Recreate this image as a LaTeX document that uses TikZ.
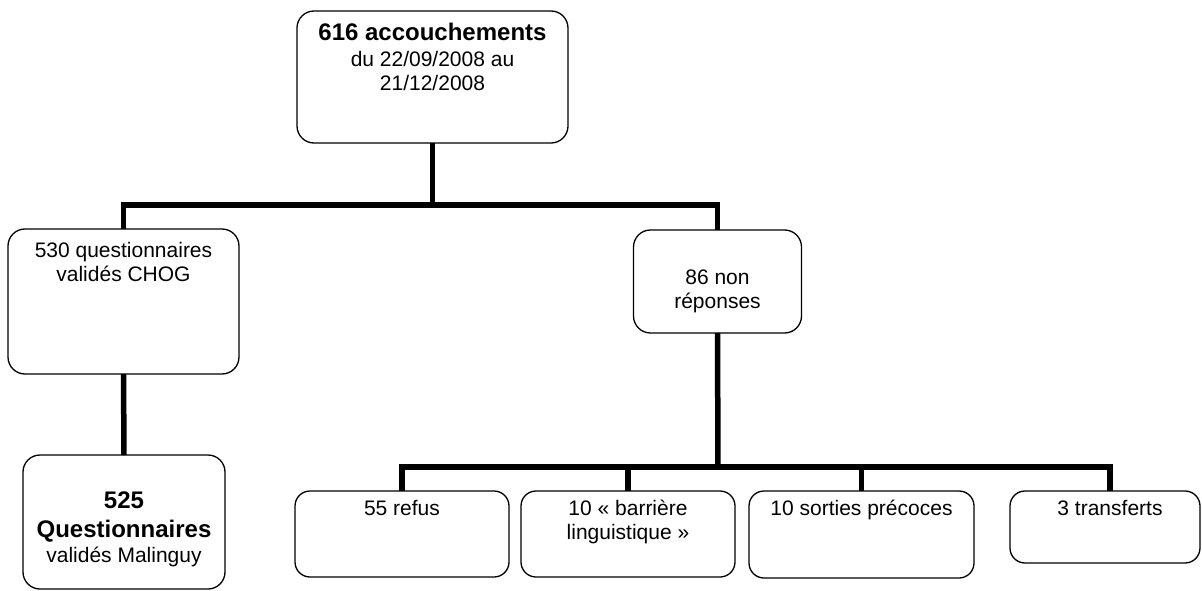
\documentclass[tikz,border=0pt]{standalone}
\usepackage{fontspec}
\setmainfont{Liberation Sans}
\begin{document}
\begin{tikzpicture}[x=1pt,y=-1pt,
  bx/.style={draw=black, line width=1.3pt, rounded corners=17pt, inner sep=0pt, outer sep=0pt},
  tx/.style={anchor=base, inner sep=0pt, font=\fontsize{21}{24}\selectfont},
  tb/.style={anchor=base, inner sep=0pt, font=\fontsize{24}{28}\selectfont\bfseries},
  cn/.style={line width=5.5pt}]
\useasboundingbox (0,0) rectangle (1202,591);
% boxes
\node[bx, minimum width=271pt, minimum height=132pt] (top) at (432.5,77) {};
\node[bx, minimum width=231pt, minimum height=145pt] (left) at (123.5,301.5) {};
\node[bx, minimum width=168pt, minimum height=103pt] (right) at (717.5,281.5) {};
\node[bx, minimum width=202pt, minimum height=134pt] (bl) at (124,522) {};
\node[bx, minimum width=214pt, minimum height=86pt, rounded corners=15pt] (b1) at (402,534) {};
\node[bx, minimum width=214pt, minimum height=86pt, rounded corners=15pt] (b2) at (628,534) {};
\node[bx, minimum width=225pt, minimum height=87pt, rounded corners=15pt] (b3) at (861.5,534.5) {};
\node[bx, minimum width=190pt, minimum height=72pt, rounded corners=15pt] (b4) at (1105,527) {};
% texts
\node[tb] (t1) at (432.5,41) {616 accouchements};
\node[tx] (t2) at (432.5,67) {du 22/09/2008 au};
\node[tx] (t3) at (432.5,91) {21/12/2008};
\node[tx] (l1) at (123.5,257) {530 questionnaires};
\node[tx] (l2) at (123.5,281) {validés CHOG};
\node[tx] (r1) at (717.5,284) {86 non};
\node[tx] (r2) at (717.5,308) {réponses};
\node[tb] (q1) at (124,508) {525};
\node[tb] (q2) at (124,537) {Questionnaires};
\node[tx] (q3) at (124,562) {validés Malinguy};
\node[tx] (s1) at (402,515) {55 refus};
\node[tx] (s2a) at (628,515) {10 « barrière};
\node[tx] (s2b) at (628,539) {linguistique »};
\node[tx] (s3) at (861.5,515) {10 sorties précoces};
\node[tx] (s4) at (1110,515) {3 transferts};
% connectors
\coordinate (bus1) at (432.5,205);
\coordinate (bus2) at (718,467);
\draw[cn] (top.south) -- (bus1);
\draw[cn] (left.north) |- (bus1) -| (right.north);
\draw[cn] (left.south) -- (bl.north);
\draw[cn] (right.south) -- (bus2);
\draw[cn] (b1.north) |- (bus2) -| ([xshift=5pt]b4.north);
\draw[cn] (b2.north) -- (b2.north |- bus2);
\draw[cn] (b3.north) -- (b3.north |- bus2);
\end{tikzpicture}
\end{document}
